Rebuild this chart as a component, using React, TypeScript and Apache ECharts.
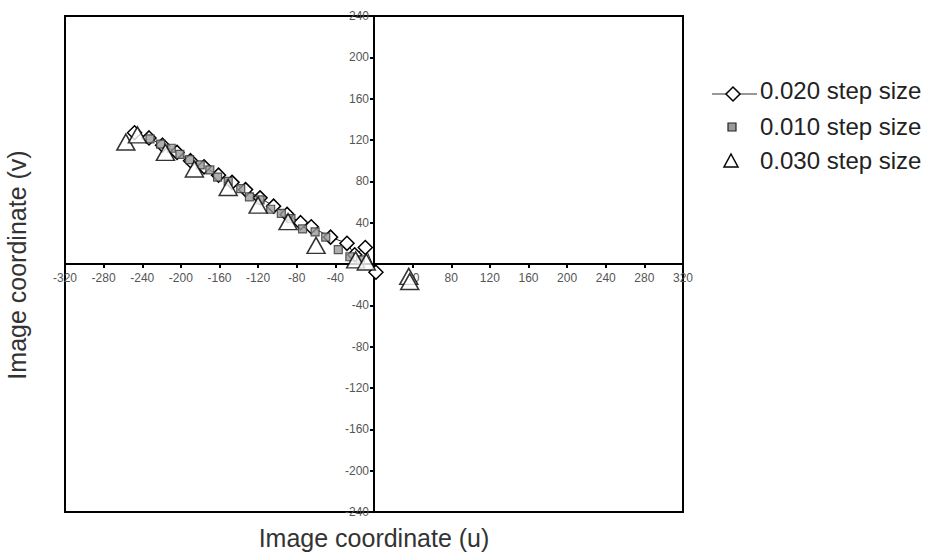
import React, { useEffect, useRef } from 'react';
import * as echarts from 'echarts';

// Data (u, v image coordinates)
const step020: number[][] = [
  [-248, 127], [-233, 122], [-219, 115], [-204, 108], [-190, 100], [-176, 94],
  [-161, 86], [-147, 79], [-133, 72], [-118, 64], [-104, 56], [-90, 48],
  [-76, 40], [-65, 36], [-45, 26], [-28, 20], [-20, 9], [-9, 16], [2, -8],
];
const step010: number[][] = [
  [-232, 121], [-221, 116], [-210, 112], [-201, 106], [-191, 101], [-180, 96],
  [-170, 91], [-162, 84], [-151, 80], [-138, 73], [-129, 65], [-118, 62],
  [-107, 53], [-96, 49], [-86, 44], [-74, 34], [-61, 31], [-50, 26],
  [-37, 14], [-25, 7], [-14, 4],
];
const step030: number[][] = [
  [-257, 118], [-245, 125], [-216, 108], [-186, 92], [-151, 74], [-120, 57],
  [-89, 41], [-60, 18], [-19, 4], [-8, 2], [36, -12], [37, -17],
];
const seriesNames = ['0.020 step size', '0.010 step size', '0.030 step size'];
const xRange = [-320, 320];
const yRange = [-240, 240];
const tickStep = 40;
const xTitle = 'Image coordinate (u)';
const yTitle = 'Image coordinate (v)';

const FONT = "'Liberation Sans', Arial, sans-serif";

const GRID_LEFT = 65;
const GRID_TOP = 16;
const GRID_W = 618;
const GRID_H = 496;

export default function App() {
  const ref = useRef<HTMLDivElement>(null);
  useEffect(() => {
    const chart = echarts.init(ref.current!, null, { renderer: 'svg' });
    const labelCommon = {
      color: '#555',
      fontSize: 12,
      fontFamily: FONT,
      showMinLabel: true,
      showMaxLabel: true,
      formatter: (v: number) => (v === 0 ? '' : String(v)),
    };
    const axisCommon = {
      type: 'value',
      interval: tickStep,
      splitLine: { show: false },
      axisLine: { onZero: false, lineStyle: { color: '#000', width: 2 } },
      axisTick: { show: true, length: 4, lineStyle: { color: '#000', width: 2 } },
    };
    chart.setOption({
      animation: false,
      backgroundColor: '#fff',
      grid: {
        show: true,
        left: GRID_LEFT,
        top: GRID_TOP,
        width: GRID_W,
        height: GRID_H,
        borderColor: '#000',
        borderWidth: 2,
        backgroundColor: 'transparent',
      },
      xAxis: {
        ...axisCommon,
        position: 'bottom',
        offset: -GRID_H / 2,
        min: xRange[0],
        max: xRange[1],
        axisLabel: { ...labelCommon, margin: 8 },
      },
      yAxis: {
        ...axisCommon,
        position: 'left',
        offset: -GRID_W / 2,
        min: yRange[0],
        max: yRange[1],
        axisLabel: { ...labelCommon, margin: 5 },
      },
      series: [
        {
          name: seriesNames[0],
          type: 'line',
          data: step020,
          symbol: 'diamond',
          symbolSize: 14,
          lineStyle: { color: '#222', width: 1 },
          itemStyle: { color: '#fff', borderColor: '#000', borderWidth: 1.5 },
          z: 2,
        },
        {
          name: seriesNames[1],
          type: 'scatter',
          data: step010,
          symbol: 'rect',
          symbolSize: 8,
          itemStyle: { color: '#9a9a9a', borderColor: '#333', borderWidth: 1.2 },
          z: 3,
        },
        {
          name: seriesNames[2],
          type: 'scatter',
          data: step030,
          symbol: 'triangle',
          symbolSize: [18, 16],
          itemStyle: { color: '#fff', borderColor: '#000', borderWidth: 1.5 },
          z: 4,
        },
      ],
      graphic: [
        {
          type: 'text',
          x: 374,
          y: 538,
          style: { text: xTitle, font: `25px ${FONT}`, fill: '#333', align: 'center', verticalAlign: 'middle' },
        },
        {
          type: 'text',
          x: 17,
          y: 265,
          rotation: Math.PI / 2,
          style: { text: yTitle, font: `25px ${FONT}`, fill: '#333', align: 'center', verticalAlign: 'middle' },
        },
        // legend
        { type: 'line', shape: { x1: 712, y1: 94, x2: 757, y2: 94 }, style: { stroke: '#333', lineWidth: 1.2 } },
        {
          type: 'polygon',
          shape: { points: [[733, 87], [740, 94], [733, 101], [726, 94]] },
          style: { fill: '#fff', stroke: '#000', lineWidth: 1.5 },
        },
        { type: 'text', x: 760, y: 90, style: { text: seriesNames[0], font: `24px ${FONT}`, fill: '#222', verticalAlign: 'middle' } },
        {
          type: 'rect',
          shape: { x: 728, y: 123, width: 8, height: 8 },
          style: { fill: '#9a9a9a', stroke: '#222', lineWidth: 1.2 },
        },
        { type: 'text', x: 760, y: 126, style: { text: seriesNames[1], font: `24px ${FONT}`, fill: '#222', verticalAlign: 'middle' } },
        {
          type: 'polygon',
          shape: { points: [[731, 154], [738, 167], [724, 167]] },
          style: { fill: '#fff', stroke: '#000', lineWidth: 1.5 },
        },
        { type: 'text', x: 760, y: 160, style: { text: seriesNames[2], font: `24px ${FONT}`, fill: '#222', verticalAlign: 'middle' } },
      ],
    });
    return () => chart.dispose();
  }, []);
  return <div ref={ref} style={{ position: 'absolute', left: 0, top: 0, width: 926, height: 557 }} />;
}
